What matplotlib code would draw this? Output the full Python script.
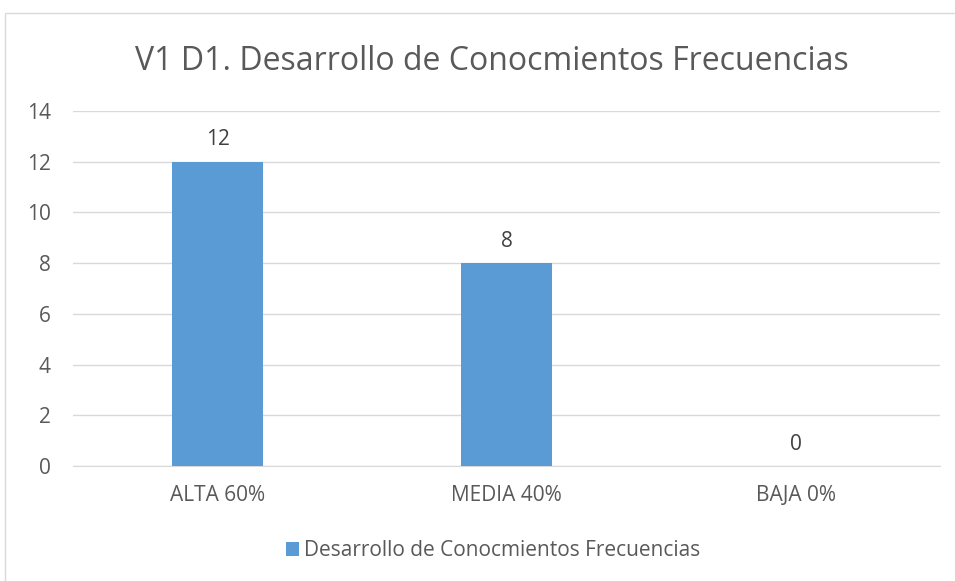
import matplotlib.pyplot as plt
from matplotlib.patches import Rectangle
import numpy as np

categories = ['ALTA 60%', 'MEDIA 40%', 'BAJA 0%']
values = [12, 8, 0]
series_name = 'Desarrollo de Conocmientos Frecuencias'
title = 'V1 D1. Desarrollo de Conocmientos Frecuencias'

plt.rcParams['font.family'] = ['Open Sans', 'DejaVu Sans']

fig = plt.figure(figsize=(9.55, 5.81), dpi=100)
# chart area border (light gray, cut off at right/bottom)
fig.patches.append(Rectangle((5 / 955, -0.1), 1.2, (581 - 13) / 581 + 0.1,
                             transform=fig.transFigure, fill=False,
                             edgecolor='#d9d9d9', linewidth=1))

ax = fig.add_axes([73 / 955, (581 - 466) / 581, 867 / 955, 355 / 581])
x = np.arange(len(categories))
bars = ax.bar(x, values, width=0.315, color='#5b9bd5', zorder=3, label=series_name)
for xi, v in zip(x, values):
    ax.text(xi, v + 0.45, str(v), ha='center', va='bottom', fontsize=15, color='#404040')

ax.set_xlim(-0.5, 2.5)
ax.set_ylim(0, 14)
ax.set_yticks(range(0, 15, 2))
ax.set_xticks(x)
ax.set_xticklabels(categories)
ax.grid(axis='y', color='#d9d9d9', linewidth=1, zorder=0)
for s in ['top', 'right', 'left']:
    ax.spines[s].set_visible(False)
ax.spines['bottom'].set_color('#d9d9d9')
ax.tick_params(axis='both', length=0, labelsize=15, labelcolor='#595959')
ax.tick_params(axis='y', pad=16)
ax.tick_params(axis='x', pad=14)

fig.text(492 / 955, 1 - 62 / 581, title, ha='center', va='center', fontsize=23, color='#595959')
fig.legend(handles=[bars], labels=[series_name], loc='center', bbox_to_anchor=(493 / 955, 1 - 551 / 581),
           frameon=False, fontsize=15, handlelength=0.65, handleheight=0.65, handletextpad=0.25,
           labelcolor='#595959')

fig.savefig('out.png', dpi=100)
